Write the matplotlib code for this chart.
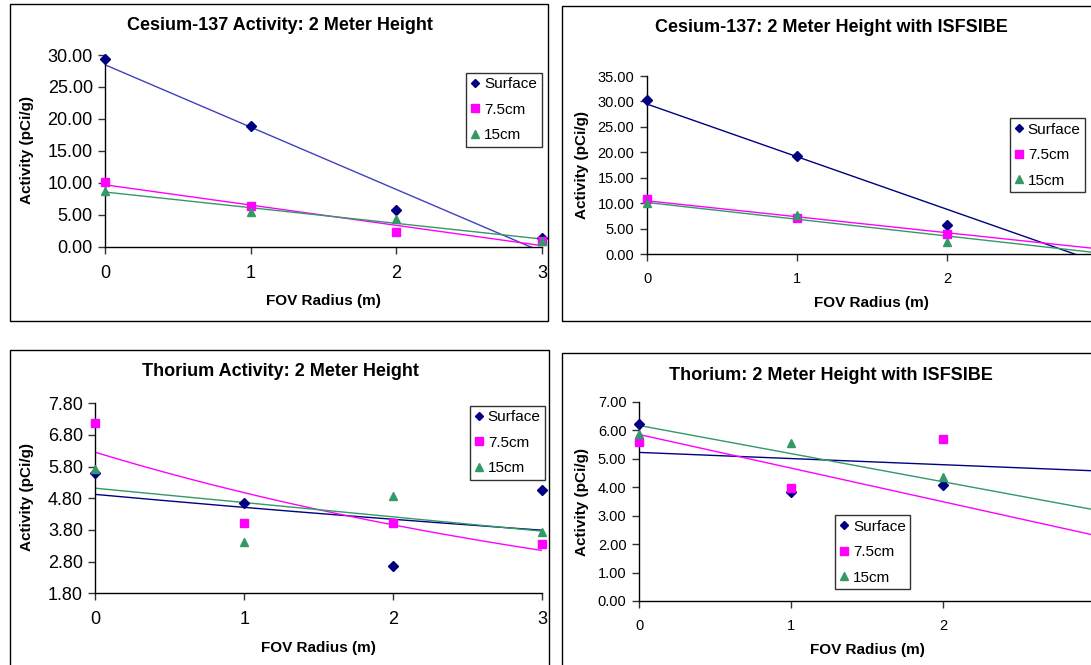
import numpy as np
import matplotlib
matplotlib.use('Agg')
from matplotlib import pyplot as plt
from matplotlib.patches import Rectangle
from matplotlib.transforms import Bbox, TransformedBbox

plt.rcParams['font.family'] = ['Liberation Sans', 'DejaVu Sans']

W, H = 1091, 665
radius = [0, 1, 2, 3]
series_names = ['Surface', '7.5cm', '15cm']

# Cesium-137, 2 m height
cs_surface = [29.4, 18.9, 5.7, 1.3]
cs_75 = [10.1, 6.4, 2.3, 0.9]
cs_15 = [8.7, 5.5, 4.4, 0.9]

# Cesium-137, 2 m height with ISFSIBE
csi_surface = [30.35, 19.35, 5.75, 0.4]
csi_75 = [10.75, 7.0, 3.95, 1.3]
csi_15 = [10.0, 7.65, 2.3, 0.8]

# Thorium, 2 m height
th_surface = [5.59, 4.66, 2.65, 5.05]
th_75 = [7.19, 4.01, 4.01, 3.36]
th_15 = [5.72, 3.43, 4.88, 3.73]

# Thorium, 2 m height with ISFSIBE
thi_surface = [6.23, 3.84, 4.08, 5.43]
thi_75 = [5.57, 3.98, 5.70, 1.06]
thi_15 = [5.85, 5.56, 4.37, 2.95]

NAVY = '#000080'
PINK = '#ff00ff'
GREEN = '#339966'

fig = plt.figure(figsize=(W / 100, H / 100), dpi=100)


def px_axes(x0, y_top, x1, y_bot):
    return fig.add_axes([x0 / W, 1 - y_bot / H, (x1 - x0) / W, (y_bot - y_top) / H])


def ftext(x, y, s, **kw):
    fig.text(x / W, 1 - y / H, s, **kw)


def border(x0, y0, x1, y1):
    fig.patches.append(Rectangle((x0 / W, 1 - y1 / H), (x1 - x0) / W, (y1 - y0) / H,
                                 transform=fig.transFigure, fill=False,
                                 edgecolor='black', linewidth=1.0))


def trend(ax, y, color, kind='linear'):
    xs = np.linspace(0, 3, 200)
    if kind == 'exp':
        b, a = np.polyfit(radius, np.log(y), 1)
        ys = np.exp(a) * np.exp(b * xs)
    else:
        b, a = np.polyfit(radius, y, 1)
        ys = a + b * xs
    ax.plot(xs, ys, color=color, linewidth=1.0, zorder=2)


def panel(box, ax_px, ylim, yticks, xticks, data, line_colors, kinds, tick_fs,
          title, title_xy, ylab_xy, xlab_xy, leg_px):
    border(*box)
    ax = px_axes(*ax_px)
    # markers may stick out of the plot area but not out of the chart box
    bx0, by0, bx1, by1 = box
    bx1 = min(bx1, W - 6)
    clip = TransformedBbox(Bbox([[bx0 / W, 1 - by1 / H], [bx1 / W, 1 - by0 / H]]),
                           fig.transFigure)
    markers = ['D', 's', '^']
    colors = [NAVY, PINK, GREEN]
    sizes = [5, 6, 6]
    handles = []
    for y, m, c, lc, k, ms in zip(data, markers, colors, line_colors, kinds, sizes):
        trend(ax, y, lc, k)
        h, = ax.plot(radius, y, linestyle='none', marker=m, color=c, markersize=ms,
                     zorder=3)
        h.set_clip_path(None)
        h.set_clip_box(clip)
        handles.append(h)
    ax.set_xlim(0, 3)
    ax.set_ylim(*ylim)
    ax.set_yticks(yticks)
    ax.set_yticklabels(['%.2f' % v for v in yticks])
    ax.set_xticks(xticks)
    ax.patch.set_alpha(0)
    for s in ['top', 'right']:
        ax.spines[s].set_visible(False)
    for s in ['left', 'bottom']:
        ax.spines[s].set_color('black')
        ax.spines[s].set_linewidth(1.0)
    ax.tick_params(direction='out', length=5, width=1, color='#333333',
                   labelsize=tick_fs, pad=4)
    ax.tick_params(axis='x', pad=8)
    ftext(title_xy[0], title_xy[1], title, fontsize=13, fontweight='bold',
          ha='center', va='center')
    ftext(ylab_xy[0], ylab_xy[1], 'Activity (pCi/g)', fontsize=11, fontweight='bold',
          ha='center', va='center', rotation=90)
    ftext(xlab_xy[0], xlab_xy[1], 'FOV Radius (m)', fontsize=11, fontweight='bold',
          ha='center', va='center')
    lx0, ly0, lx1, ly1 = leg_px
    leg = fig.legend(handles, series_names, loc='upper left',
                     bbox_to_anchor=(lx0 / W, 1 - ly0 / H), fontsize=11,
                     frameon=True, fancybox=False, handlelength=0.6,
                     handletextpad=0.3, borderpad=0.3, labelspacing=0.75,
                     borderaxespad=0, markerscale=0.85)
    leg.get_frame().set_edgecolor('black')
    leg.get_frame().set_linewidth(1.0)
    return ax


panel((9.5, 3.5, 548, 320.5), (105.3, 55, 542, 246.7), (0, 30), [0, 5, 10, 15, 20, 25, 30],
      radius, [cs_surface, cs_75, cs_15], ['#4040c0', PINK, GREEN], ['linear'] * 3, 13,
      'Cesium-137 Activity: 2 Meter Height', (280, 26), (27, 150), (323, 301),
      (466, 72.7, 538.6, 146))

panel((562, 6, 1100, 320.5), (647, 76, 1097, 254), (0, 35), [0, 5, 10, 15, 20, 25, 30, 35],
      radius[:3], [csi_surface, csi_75, csi_15], [NAVY, PINK, GREEN], ['linear'] * 3, 10.5,
      'Cesium-137: 2 Meter Height with ISFSIBE', (831, 28), (582, 165), (871, 302.7),
      (1009.5, 118, 1083, 192))

panel((9.5, 350, 549, 670), (95.4, 403.3, 542, 593.3), (1.8, 7.8),
      [1.8, 2.8, 3.8, 4.8, 5.8, 6.8, 7.8],
      radius, [th_surface, th_75, th_15], [NAVY, PINK, GREEN], ['exp', 'exp', 'linear'], 13,
      'Thorium Activity: 2 Meter Height', (280, 372), (27, 497), (318, 648),
      (469.5, 405.7, 542.5, 478))

panel((562, 353.3, 1100, 670), (639, 401.7, 1095, 601), (0, 7), [0, 1, 2, 3, 4, 5, 6, 7],
      radius[:3], [thi_surface, thi_75, thi_15], [NAVY, PINK, GREEN], ['linear'] * 3, 10.5,
      'Thorium: 2 Meter Height with ISFSIBE', (831, 375.7), (582, 502), (867, 650),
      (834.7, 515, 907.7, 588))

fig.savefig('out.png', dpi=100)
